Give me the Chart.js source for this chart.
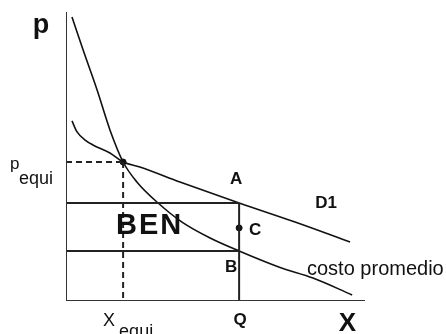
<!DOCTYPE html>
<html>
<head>
<meta charset="utf-8">
<script src="https://cdn.jsdelivr.net/npm/chart.js@4.4.1/dist/chart.umd.min.js"></script>
<style>
  body { margin: 0; background: #fff; }
  #wrap { width: 446px; height: 334px; }
</style>
</head>
<body>
<div id="wrap"><canvas id="chart" width="446" height="334"></canvas></div>
<script>
// curva de costo promedio (la empinada)
const costX = [2.0, 5.7, 10.4, 14.7, 19.1, 23.7, 30.8, 38.8, 48.2, 57.9, 71.6, 82.6, 95.7]
const costY = [98.3, 86.9, 73.0, 59.2, 48.1, 41.2, 33.9, 27.3, 21.8, 17.3, 11.6, 7.96, 2.1]

// demanda D1 (la mas plana)
const demX = [2.0, 3.7, 6.4, 9.0, 14.7, 19.1, 24.7, 38.1, 57.9, 76.6, 95.0]
const demY = [62.3, 58.5, 55.7, 54.0, 51.2, 48.1, 46.4, 41.2, 33.9, 27.3, 20.4]

const xEqui = 19.1
const pEqui = 48.1
const qVal = 57.9
const aVal = 33.9   // precio en A
const bVal = 17.3   // costo en B
const cVal = 25.3

const toPts = (xs, ys) => xs.map((x, i) => ({ x: x, y: ys[i] }))

const ink = '#111'

const labels = {
  id: 'labels',
  afterDraw(chart) {
    const c = chart.ctx
    const sx = chart.scales.x
    const sy = chart.scales.y
    const X = v => sx.getPixelForValue(v)
    const Y = v => sy.getPixelForValue(v)
    c.save()
    c.fillStyle = ink
    c.textBaseline = 'middle'
    c.textAlign = 'center'

    c.font = 'bold 27px "Liberation Sans", Arial, sans-serif'
    c.fillText('p', X(0) - 25, Y(100) + 14)

    // p equi
    c.font = '17px "Liberation Sans", Arial, sans-serif'
    c.textAlign = 'left'
    c.fillText('p', 10, Y(pEqui) + 2)
    c.font = '18px "Liberation Sans", Arial, sans-serif'
    c.fillText('equi', 19, Y(pEqui) + 17)

    // X equi
    c.font = '18px "Liberation Sans", Arial, sans-serif'
    c.fillText('X', X(xEqui) - 20, Y(0) + 20)
    c.fillText('equi', X(xEqui) - 4, Y(0) + 31)

    c.textAlign = 'center'
    c.font = 'bold 17px "Liberation Sans", Arial, sans-serif'
    c.fillText('Q', X(qVal) + 1, Y(0) + 19)
    c.fillText('A', X(qVal) - 3, Y(aVal) - 24)
    c.fillText('B', X(qVal) - 8, Y(bVal) + 16)
    c.fillText('C', X(qVal) + 16, Y(cVal) + 2)
    c.fillText('D1', X(87), Y(aVal))

    c.font = 'bold 26px "Liberation Sans", Arial, sans-serif'
    c.fillText('X', X(94.1), Y(0) + 23)

    c.textAlign = 'left'
    c.font = 'bold 29px "Liberation Sans", Arial, sans-serif'
    c.letterSpacing = '2px'
    c.fillText('BEN', X(16.7), Y(aVal) + 23)
    c.letterSpacing = '0px'

    c.font = '20px "Liberation Sans", Arial, sans-serif'
    c.fillText('costo promedio', X(80.6), Y(11))
    c.restore()
  }
}

const chart = new Chart(document.getElementById('chart'), {
  type: 'scatter',
  data: {
    datasets: [
      { data: [{ x: 0, y: 0 }, { x: 0, y: 100 }], showLine: true, borderColor: '#333', borderWidth: 2, pointRadius: 0 },
      { data: [{ x: 0, y: 0 }, { x: 100, y: 0 }], showLine: true, borderColor: '#333', borderWidth: 2, pointRadius: 0 },
      // rectangulo BEN
      { data: [{ x: 0, y: aVal }, { x: qVal, y: aVal }], showLine: true, borderColor: '#222', borderWidth: 2, pointRadius: 0 },
      { data: [{ x: 0, y: bVal }, { x: qVal, y: bVal }], showLine: true, borderColor: '#222', borderWidth: 2, pointRadius: 0 },
      { data: [{ x: qVal, y: aVal }, { x: qVal, y: 0 }], showLine: true, borderColor: '#222', borderWidth: 2, pointRadius: 0 },
      // lineas punteadas del equilibrio
      { data: [{ x: 0, y: pEqui }, { x: xEqui, y: pEqui }], showLine: true, borderColor: '#222', borderWidth: 2, borderDash: [6, 4], pointRadius: 0 },
      { data: [{ x: xEqui, y: pEqui }, { x: xEqui, y: 0 }], showLine: true, borderColor: '#222', borderWidth: 2, borderDash: [6, 4], pointRadius: 0 },
      { data: toPts(costX, costY), showLine: true, borderColor: ink, borderWidth: 1.6, pointRadius: 0, cubicInterpolationMode: 'monotone' },
      { data: toPts(demX, demY), showLine: true, borderColor: ink, borderWidth: 1.6, pointRadius: 0, cubicInterpolationMode: 'monotone' },
      { data: [{ x: xEqui, y: pEqui }, { x: qVal, y: cVal }], showLine: false, pointRadius: 3, pointBackgroundColor: ink, pointBorderColor: ink }
    ]
  },
  options: {
    responsive: false,
    animation: false,
    layout: { padding: { left: 66, right: 81, top: 12, bottom: 33 } },
    plugins: { legend: { display: false }, tooltip: { enabled: false } },
    scales: {
      x: { type: 'linear', min: 0, max: 100, display: false },
      y: { type: 'linear', min: 0, max: 100, display: false }
    }
  },
  plugins: [labels]
});
</script>
</body>
</html>
